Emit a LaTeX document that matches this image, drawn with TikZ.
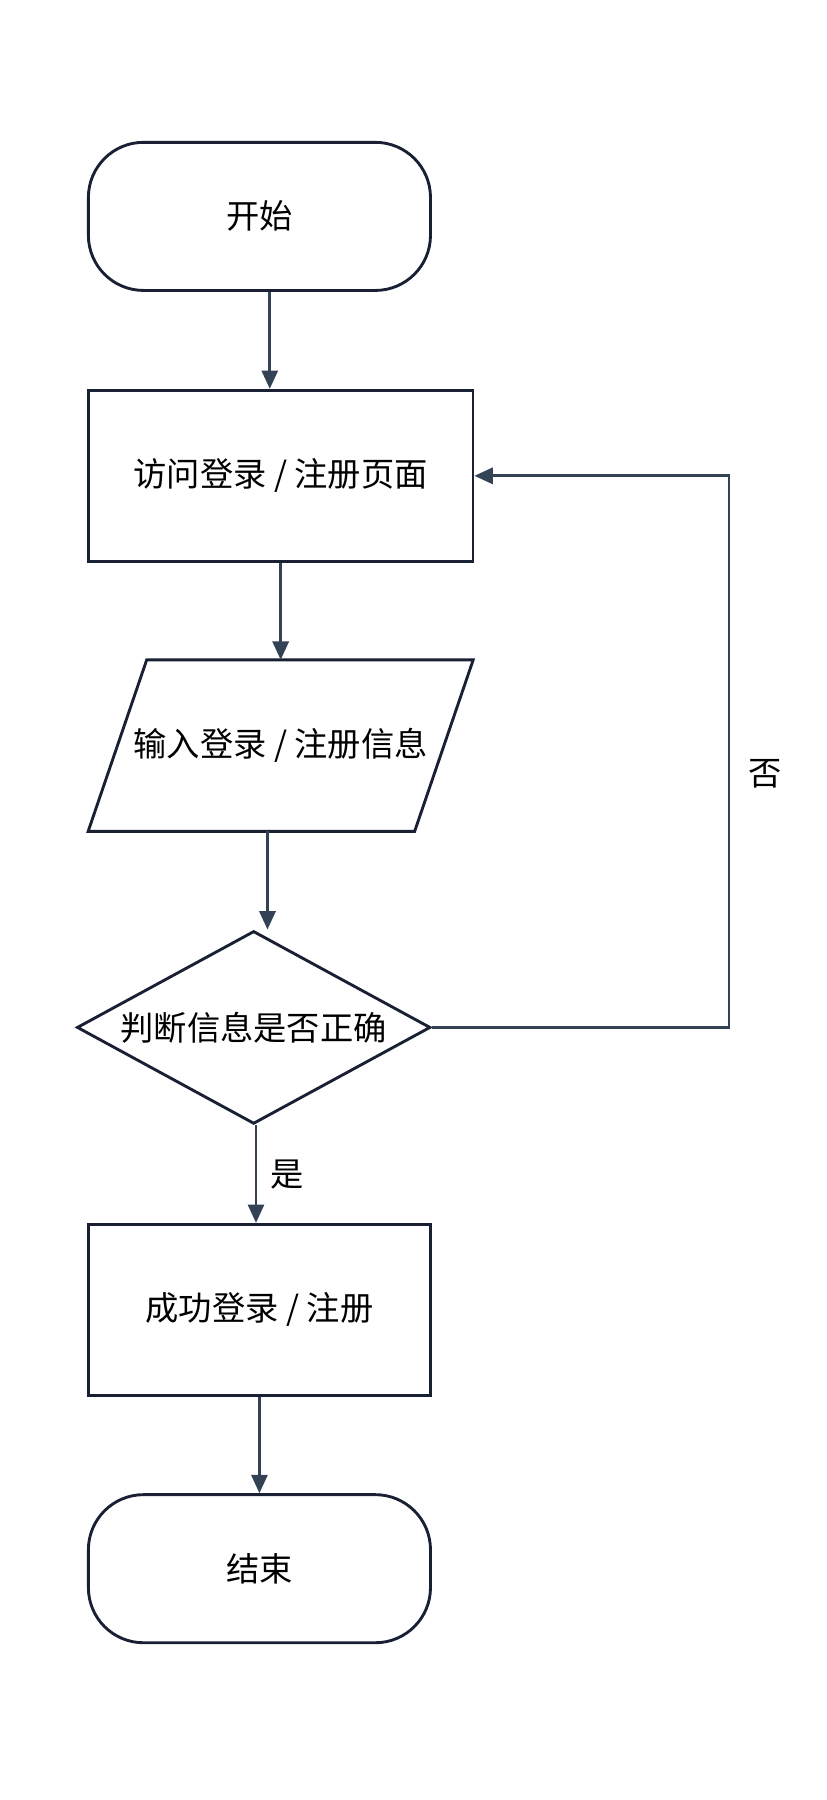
\documentclass[tikz,border=0pt]{standalone}
\usepackage{fontspec}
\setmainfont{Noto Sans CJK SC}
\usetikzlibrary{shapes.geometric,arrows.meta}
\definecolor{edge}{HTML}{1A2033}
\definecolor{link}{HTML}{344256}

\begin{document}
\begin{tikzpicture}[x=1pt,y=-1pt,
	every node/.style={font=\fontsize{29}{33}\selectfont, text=black},
	term/.style={draw=edge, line width=2.5pt, rounded corners=48pt, minimum width=298pt, minimum height=129pt},
	proc/.style={draw=edge, line width=2.5pt, minimum height=149pt},
	io/.style={minimum width=335pt, minimum height=149pt, inner sep=0pt},
	dec/.style={draw=edge, line width=2.5pt, diamond, aspect=1.833, minimum width=308pt, minimum height=168pt, inner sep=0pt},
	flow/.style={draw=link, line width=2.5pt, -{Triangle[length=16pt,width=14pt]}}]
	\useasboundingbox (0,0) rectangle (720,1568);
	\node [term] (start) at (226,188.5) {开始};
	\node [proc, minimum width=335pt] (visit) at (244.5,414.5) {访问登录 / 注册页面};
	\node [io] (input) at (244.5,649.5) {输入登录 / 注册信息};
	\draw [edge, line width=2.5pt] ([xshift=51pt]input.north west) -- (input.north east)
		-- ([xshift=-51pt]input.south east) -- (input.south west) -- cycle;
	\node [dec] (check) at (221,895) {判断信息是否正确};
	\node [proc, minimum width=298pt] (done) at (226,1141) {成功登录 / 注册};
	\node [term] (stop) at (226,1366.5) {结束};
	\coordinate (turn) at (635,895);
	% connectors
	\draw [flow] ([xshift=9pt]start.south) -- ([xshift=-9.5pt]visit.north);
	\draw [flow] (visit.south) -- (input.north);
	\draw [flow] ([xshift=-11.5pt]input.south) -- ([xshift=12pt]check.north);
	\draw [flow] ([xshift=2pt]check.south) -- ([xshift=-3pt]done.north) node [midway, right=8pt] {是};
	\draw [flow] (check.east) -- (turn) |- (visit.east) node [pos=0.23, right=12pt] {否};
\draw [flow] (done.south) -- (stop.north);
\end{tikzpicture}
\end{document}
